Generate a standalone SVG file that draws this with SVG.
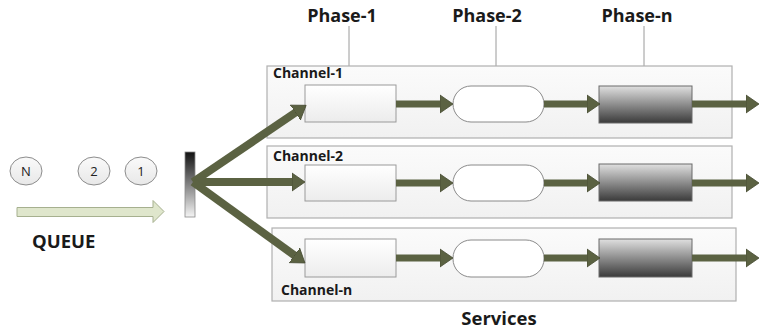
<svg xmlns="http://www.w3.org/2000/svg" width="759" height="333" viewBox="0 0 759 333">
<defs>
<linearGradient id="dark" x1="0" y1="0" x2="0" y2="1"><stop offset="0" stop-color="#e0e0e0"/><stop offset="1" stop-color="#3a3a3a"/></linearGradient>
<linearGradient id="bar" x1="0" y1="0" x2="0" y2="1"><stop offset="0" stop-color="#111"/><stop offset="1" stop-color="#f4f4f4"/></linearGradient>
<linearGradient id="light" x1="0" y1="0" x2="0" y2="1"><stop offset="0" stop-color="#ffffff"/><stop offset="1" stop-color="#ececec"/></linearGradient>
<linearGradient id="chan" x1="0" y1="0" x2="0" y2="1"><stop offset="0" stop-color="#fbfbfb"/><stop offset="1" stop-color="#f1f1f1"/></linearGradient>
<linearGradient id="ball" x1="0" y1="0" x2="0" y2="1"><stop offset="0" stop-color="#fafafa"/><stop offset="1" stop-color="#e8e8e8"/></linearGradient>
<marker id="ah" markerUnits="userSpaceOnUse" markerWidth="14" markerHeight="20" viewBox="0 -10 14 20" refX="2" refY="0" orient="auto">
<path d="M0,-9 L13,0 L0,9 Z" fill="#5b6242" stroke="#464b32" stroke-width="0.8"/>
</marker>
</defs>
<style>
.t{font-family:"Open Sans","Liberation Sans",sans-serif;font-weight:bold;fill:#1a1a1a}
.ch{fill:url(#chan);stroke:#b0b0b0;stroke-width:1.2}
.p1{fill:url(#light);stroke:#9a9a9a;stroke-width:1}
.p2{fill:#ffffff;stroke:#8a8a8a;stroke-width:1}
.pn{fill:url(#dark);stroke:#6a6a6a;stroke-width:1}
.lead{stroke:#9a9a9a;stroke-width:1;fill:none}
.con{stroke:#5b6242;stroke-width:7;fill:none;marker-end:url(#ah)}
.br{stroke:#5b6242;stroke-width:8;fill:none;marker-end:url(#ah)}
.q{fill:url(#ball);stroke:#8c8c8c;stroke-width:1}
.qt{font-family:"Open Sans","Liberation Sans",sans-serif;font-size:13px;fill:#222;text-anchor:middle}
</style>
<rect width="759" height="333" fill="#ffffff"/>

<g id="labels">
<text class="t" x="342" y="22" font-size="18" text-anchor="middle">Phase-1</text>
<text class="t" x="487" y="22" font-size="18" text-anchor="middle">Phase-2</text>
<text class="t" x="637" y="22" font-size="18" text-anchor="middle">Phase-n</text>
<line class="lead" x1="349" y1="26" x2="349" y2="66"/>
<line class="lead" x1="496" y1="26" x2="496" y2="66"/>
<line class="lead" x1="644" y1="26" x2="644" y2="66"/>
<text class="t" x="499" y="325" font-size="18.5" text-anchor="middle">Services</text>
<text class="t" x="32" y="248" font-size="18.5">QUEUE</text>
</g>

<g id="channel-1">
<rect class="ch" x="267" y="66" width="465" height="72"/>
<text class="t" x="273" y="78" font-size="14">Channel-1</text>
<rect id="c1-phase1" class="p1" x="305" y="85" width="91" height="37"/>
<rect id="c1-phase2" class="p2" x="453" y="86" width="91" height="36" rx="18" ry="18"/>
<rect id="c1-phasen" class="pn" x="599" y="86" width="93" height="37"/>
</g>

<g id="channel-2">
<rect class="ch" x="267" y="146" width="465" height="72"/>
<text class="t" x="273" y="161" font-size="14">Channel-2</text>
<rect id="c2-phase1" class="p1" x="305" y="165" width="91" height="36"/>
<rect id="c2-phase2" class="p2" x="453" y="165" width="91" height="36" rx="18" ry="18"/>
<rect id="c2-phasen" class="pn" x="599" y="164" width="93" height="37"/>
</g>

<g id="channel-n">
<rect class="ch" x="272" y="228" width="464" height="73"/>
<text class="t" x="281" y="295" font-size="14">Channel-n</text>
<rect id="cn-phase1" class="p1" x="305" y="239" width="91" height="38"/>
<rect id="cn-phase2" class="p2" x="453" y="240" width="91" height="37" rx="18" ry="18"/>
<rect id="cn-phasen" class="pn" x="599" y="239" width="93" height="38"/>
</g>

<g id="queue">
<ellipse class="q" cx="26" cy="171" rx="16" ry="14"/>
<text class="qt" x="26" y="175.5">N</text>
<ellipse class="q" cx="94" cy="171" rx="16" ry="14"/>
<text class="qt" x="94" y="175.5">2</text>
<ellipse class="q" cx="141" cy="171" rx="16" ry="14"/>
<text class="qt" x="141" y="175.5">1</text>
<path d="M17,207.5 L153,207.5 L153,200.5 L164,211.5 L153,222.5 L153,216.5 L17,216.5 Z" fill="#dfe6cc" stroke="#a6b08f" stroke-width="1"/>
</g>

<g id="splitter">
<rect x="185" y="152" width="10" height="65" fill="url(#bar)" stroke="#8a8a8a" stroke-width="0.8"/>
</g>

<g id="connectors">
<line class="br" x1="193" y1="182" x2="297" y2="111.5"/>
<line class="br" x1="193" y1="182" x2="294" y2="182"/>
<line class="br" x1="193" y1="182" x2="296" y2="256.5"/>
<line class="con" x1="396" y1="104" x2="442" y2="104"/>
<line class="con" x1="544" y1="104" x2="589" y2="104"/>
<line class="con" x1="692" y1="104" x2="748" y2="104"/>
<line class="con" x1="396" y1="183" x2="442" y2="183"/>
<line class="con" x1="544" y1="183" x2="589" y2="183"/>
<line class="con" x1="692" y1="183" x2="748" y2="183"/>
<line class="con" x1="396" y1="258" x2="442" y2="258"/>
<line class="con" x1="544" y1="258" x2="589" y2="258"/>
<line class="con" x1="692" y1="258" x2="748" y2="258"/>
</g>
</svg>
